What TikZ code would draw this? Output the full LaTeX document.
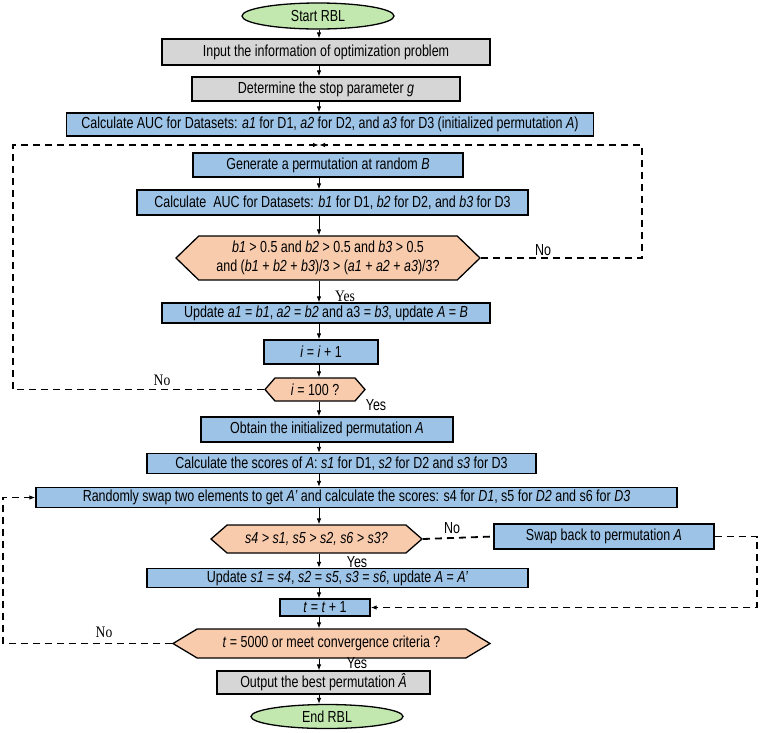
\documentclass[tikz,border=0pt]{standalone}
\usepackage{fontspec}
\setmainfont{Liberation Sans}[FakeStretch=0.78]
\newfontfamily\lblserif{Liberation Serif}[FakeStretch=0.85]
\usetikzlibrary{arrows.meta, positioning, shapes.geometric, shapes.symbols}
\definecolor{boxblue}{HTML}{9DC3E6}
\definecolor{boxgray}{HTML}{D6D6D6}
\definecolor{hexorange}{HTML}{F8CBAD}
\definecolor{ovalgreen}{HTML}{C2E8B0}
\tikzset{
  >={Latex[length=6pt, width=4.5pt]},
  every picture/.style={line join=miter, font=\fontsize{16}{19}\selectfont},
  box/.style={draw=black, line width=1.3pt, fill=boxblue, inner sep=0pt, align=center},
  gbox/.style={box, fill=boxgray},
  term/.style={ellipse, draw=black, line width=1.3pt, fill=ovalgreen, inner sep=0pt},
  test/.style={signal, signal to=west and east, draw=black, line width=1.3pt,
               fill=hexorange, inner sep=0pt, align=center},
  flow/.style={->, line width=0.8pt},
  back/.style={->, line width=1.8pt, dash pattern=on 7pt off 5pt},
  lbl/.style={inner sep=0pt},
  slbl/.style={lbl, font=\lblserif\fontsize{16}{19}\selectfont},
}

\begin{document}
\begin{tikzpicture}[x=1pt, y=-1pt]
  \useasboundingbox (0,0) rectangle (760,732);
  \coordinate (axis) at (319,0);
  % main column
  \node[term, minimum width=152pt, minimum height=26pt] (start) at (318,16) {Start RBL};
  \node[gbox, minimum width=328pt, minimum height=26pt] (input) at (326,52) {Input the information of optimization problem};
  \node[gbox, minimum width=268pt, minimum height=24pt] (stop) at (326,89) {Determine the stop parameter \textit{g}};
  \node[box, minimum width=527pt, minimum height=23pt] (aucA) at (330,124.5) {Calculate AUC for Datasets: \textit{a1} for D1, \textit{a2} for D2, and \textit{a3} for D3 (initialized permutation \textit{A})};
  \node[box, minimum width=270pt, minimum height=24pt] (gen) at (328,165) {Generate a permutation at random \textit{B}};
  \node[box, minimum width=391pt, minimum height=25pt] (aucB) at (332.5,202.5) {Calculate\ \ AUC for Datasets: \textit{b1} for D1, \textit{b2} for D2, and \textit{b3} for D3};
  \node[test, minimum width=304pt, minimum height=44pt, signal pointer angle=88] (chkB) at (328,258)
    {\textit{b1} > 0.5 and \textit{b2} > 0.5 and \textit{b3} > 0.5\\and (\textit{b1} + \textit{b2} + \textit{b3})/3 > (\textit{a1} + \textit{a2} + \textit{a3})/3?};
  \node[box, minimum width=328pt, minimum height=20pt] (updA) at (326,313) {Update \textit{a1} = \textit{b1}, \textit{a2} = \textit{b2} and a3 = \textit{b3}, update \textit{A} = \textit{B}};
  \node[box, minimum width=114pt, minimum height=24pt] (inci) at (321,352) {\textit{i} = \textit{i} + 1};
  \node[test, minimum width=100pt, minimum height=23pt, signal pointer angle=98] (chki) at (315,389.5) {\textit{i} = 100 ?};
  \node[box, minimum width=252pt, minimum height=25pt] (init) at (327,429.5) {Obtain the initialized permutation \textit{A}};
  \node[box, minimum width=389pt, minimum height=20pt] (scr) at (341.5,463.5) {Calculate the scores of \textit{A}: \textit{s1} for D1, \textit{s2} for D2 and \textit{s3} for D3};
  \node[box, minimum width=641pt, minimum height=20pt] (swp) at (356.5,497.5) {Randomly swap two elements to get \textit{A'} and calculate the scores: s4 for \textit{D1}, s5 for \textit{D2} and s6 for \textit{D3}};
  \node[test, minimum width=211pt, minimum height=28pt, signal pointer angle=82] (chks) at (316.5,539) {\textit{s4 > s1, s5 > s2, s6 > s3?}};
  \node[box, minimum width=220pt, minimum height=25pt] (back) at (604,536.5) {Swap back to permutation \textit{A}};
  \node[box, minimum width=381pt, minimum height=19pt] (updS) at (337.5,578) {Update \textit{s1} = \textit{s4}, \textit{s2} = \textit{s5}, \textit{s3} = \textit{s6}, update \textit{A} = \textit{A'}};
  \node[box, minimum width=90pt, minimum height=17pt] (inct) at (325,607.5) {\textit{t} = \textit{t} + 1};
  \node[test, minimum width=317pt, minimum height=29pt, signal pointer angle=62] (chkt) at (331.5,643.5) {\textit{t} = 5000 or meet convergence criteria ?};
  \node[gbox, minimum width=213pt, minimum height=23pt] (best) at (323.5,682.5) {Output the best permutation \textit{Â}};
  \node[term, minimum width=152pt, minimum height=24pt] (stopnode) at (327,716.5) {End RBL};
  % free ends of the loops
  \coordinate (join) at (319,145);
  \coordinate (ltop) at (13,145);
  \coordinate (rtop) at (642,145);
  \coordinate (lbot) at (3,0);
  \coordinate (rbot) at (757,0);
  % forward path
  \foreach \a/\b in {start/input, input/stop, stop/aucA, gen/aucB, aucB/chkB, chkB/updA,
                     updA/inci, inci/chki, chki/init, init/scr, scr/swp, swp/chks,
                     chks/updS, updS/inct, inct/chkt, chkt/best, best/stopnode}
    \draw[flow] (axis |- \a.south) -- (axis |- \b.north);
  % loops
  \draw[back] (chkB.east) -| (rtop) -- (join);
  \draw[back] (chki.west) -| (ltop) -- (join);
  \draw[back, -] (chks.east) -- (back.west);
  \draw[back] (back.east) -| (rbot |- inct.east) -- (inct.east);
  \draw[back] (chkt.west) -| (lbot |- swp.west) -- (swp.west);
  % branch labels
  \node[lbl] (noB) at (543,250) {No};
  \node[slbl] (yesB) at (345,296) {Yes};
  \node[slbl] (noi) at (162,380) {No};
  \node[lbl] (yesi) at (376,405) {Yes};
  \node[lbl] (nos) at (452,528) {No};
  \node[lbl] (yess) at (357,562) {Yes};
  \node[slbl] (not) at (104,632) {No};
  \node[lbl] (yest) at (357,663) {Yes};
\end{tikzpicture}
\end{document}
